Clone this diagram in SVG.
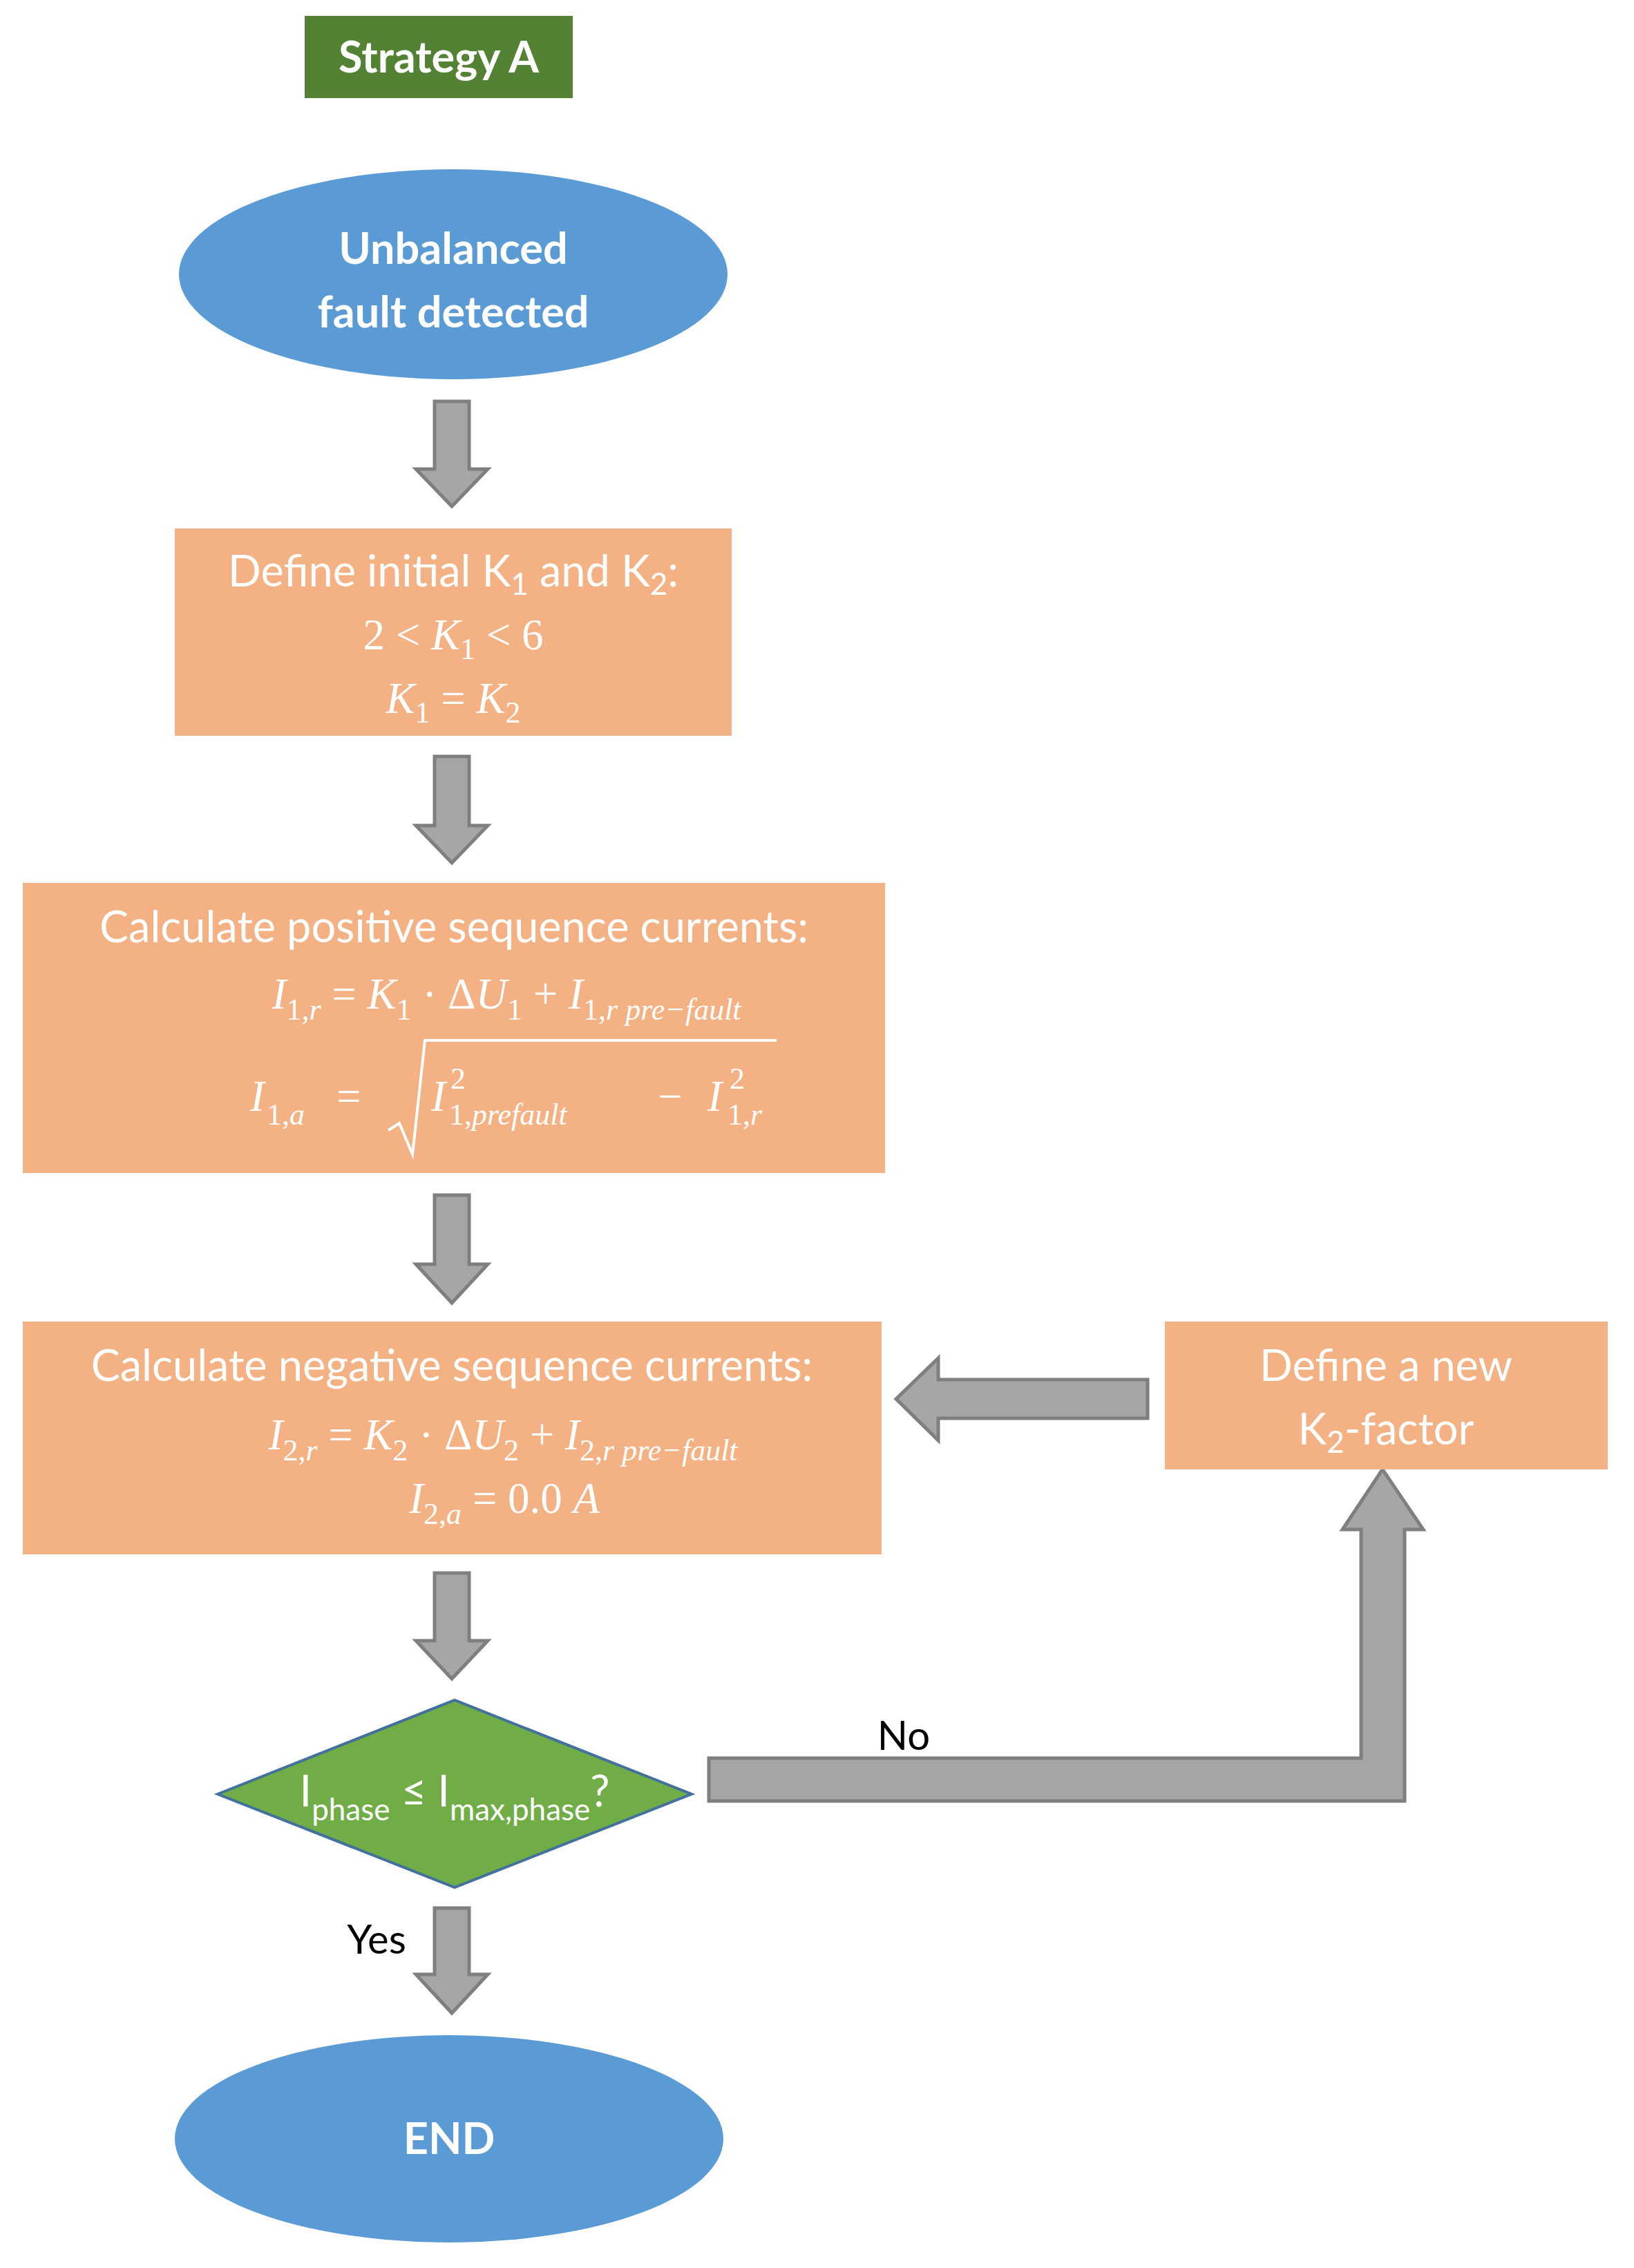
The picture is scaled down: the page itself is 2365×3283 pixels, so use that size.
<svg xmlns="http://www.w3.org/2000/svg" width="2365" height="3283" viewBox="0 0 2365 3283">
<style>
.t{font-family:Lato,"Open Sans",sans-serif;fill:#fff;font-size:63px;text-anchor:middle}
.b{font-weight:bold}
.m{font-family:"Liberation Serif",serif;font-style:italic;fill:#fff;font-size:63px}
.mu{font-style:normal}
.s{font-size:44px}
.k{font-family:Lato,"Open Sans",sans-serif;fill:#000;font-size:58px;text-anchor:middle}
.arr{fill:#A6A6A6;stroke:#7F7F7F;stroke-width:5;stroke-linejoin:miter}
.box{fill:#F4B183}
.ell{fill:#5B9BD5}
</style>
<rect width="2365" height="3283" fill="#fff"/>
<g id="connectors">
<polygon class="arr" points="629,581 679,581 679,679 706,679 654,733 602,679 629,679"/>
<polygon class="arr" points="629,1095 679,1095 679,1195 706,1195 654,1249 602,1195 629,1195"/>
<polygon class="arr" points="629,1730 679,1730 679,1830 706,1830 654,1886 602,1830 629,1830"/>
<polygon class="arr" points="629,2277 679,2277 679,2375 706,2375 654,2430 602,2375 629,2375"/>
<polygon class="arr" points="629,2762 679,2762 679,2858 706,2858 654,2914 602,2858 629,2858"/>
<polygon class="arr" points="1661,1997 1661,2053 1358,2053 1358,2085 1297,2025 1358,1966 1358,1997"/>
<polygon class="arr" points="1026,2545 1970,2545 1970,2214 1943,2214 2001,2127 2060,2214 2033,2214 2033,2607 1026,2607"/>
<text class="k" x="1308" y="2533">No</text>
<text class="k" x="545" y="2828">Yes</text>
</g>
<g id="strategy">
<rect x="441" y="23" width="388" height="119" fill="#548235"/>
<text class="t b" x="635" y="105">Strategy A</text>
</g>
<g id="start">
<ellipse class="ell" cx="656" cy="397" rx="397" ry="152"/>
<text class="t b" x="656" y="382">Unbalanced</text>
<text class="t b" x="656" y="474">fault detected</text>
</g>
<g id="define">
<rect class="box" x="253" y="765" width="806" height="300"/>
<text class="t" x="656" y="849">Define initial K<tspan class="s" dy="12">1</tspan><tspan dy="-12"> and K</tspan><tspan class="s" dy="12">2</tspan><tspan dy="-12">:</tspan></text>
<text class="m" x="656" y="940" text-anchor="middle"><tspan class="mu">2 &lt; </tspan>K<tspan class="s mu" dy="14">1</tspan><tspan class="mu" dy="-14"> &lt; 6</tspan></text>
<text class="m" x="656" y="1032" text-anchor="middle">K<tspan class="s mu" dy="14">1</tspan><tspan class="mu" dy="-14"> = </tspan>K<tspan class="s mu" dy="14">2</tspan></text>
</g>
<g id="positive">
<rect class="box" x="33" y="1278" width="1248" height="420"/>
<text class="t" x="657" y="1364">Calculate positive sequence currents:</text>
<text class="m" x="733" y="1460" text-anchor="middle">I<tspan class="s" dy="16"><tspan class="mu">1,</tspan>r</tspan><tspan class="mu" dy="-16"> = </tspan>K<tspan class="s mu" dy="16">1</tspan><tspan class="mu" dy="-16"> · Δ</tspan>U<tspan class="s mu" dy="16">1</tspan><tspan class="mu" dy="-16"> + </tspan>I<tspan class="s" dy="16"><tspan class="mu">1,</tspan>r pre−fault</tspan></text>
<text class="m" x="362" y="1608">I</text>
<text class="m s" x="386" y="1628"><tspan class="mu">1,</tspan>a</text>
<text class="m mu" x="487" y="1608">=</text>
<polyline points="562,1636 578,1626 597,1671 615,1506 1124,1506" fill="none" stroke="#fff" stroke-width="4"/>
<text class="m" x="624" y="1608">I</text>
<text class="m s mu" x="652" y="1576">2</text>
<text class="m s" x="650" y="1628"><tspan class="mu">1,</tspan>prefault</text>
<text class="m mu" x="952" y="1608">−</text>
<text class="m" x="1024" y="1608">I</text>
<text class="m s mu" x="1056" y="1576">2</text>
<text class="m s" x="1053" y="1628"><tspan class="mu">1,</tspan>r</text>
</g>
<g id="negative">
<rect class="box" x="33" y="1913" width="1243" height="337"/>
<text class="t" x="654" y="1999">Calculate negative sequence currents:</text>
<text class="m" x="728" y="2098" text-anchor="middle">I<tspan class="s" dy="16"><tspan class="mu">2,</tspan>r</tspan><tspan class="mu" dy="-16"> = </tspan>K<tspan class="s mu" dy="16">2</tspan><tspan class="mu" dy="-16"> · Δ</tspan>U<tspan class="s mu" dy="16">2</tspan><tspan class="mu" dy="-16"> + </tspan>I<tspan class="s" dy="16"><tspan class="mu">2,</tspan>r pre−fault</tspan></text>
<text class="m" x="730" y="2190" text-anchor="middle">I<tspan class="s" dy="16"><tspan class="mu">2,</tspan>a</tspan><tspan class="mu" dy="-16"> = 0.0 </tspan>A</text>
</g>
<g id="newk">
<rect class="box" x="1686" y="1913" width="641" height="214"/>
<text class="t" x="2006" y="1999">Define a new</text>
<text class="t" x="2006" y="2091">K<tspan class="s" dy="12">2</tspan><tspan dy="-12">-factor</tspan></text>
</g>
<g id="decision">
<polygon points="315,2597 658,2461 1001,2597 658,2732" fill="#70AD47" stroke="#41719C" stroke-width="4"/>
<text class="t" x="658" y="2615">I<tspan class="s" dy="20">phase</tspan><tspan dy="-20"> ≤ I</tspan><tspan class="s" dy="20">max,phase</tspan><tspan dy="-20">?</tspan></text>
</g>
<g id="end">
<ellipse class="ell" cx="650" cy="3096" rx="397" ry="150"/>
<text class="t b" x="650" y="3118">END</text>
</g>
</svg>
